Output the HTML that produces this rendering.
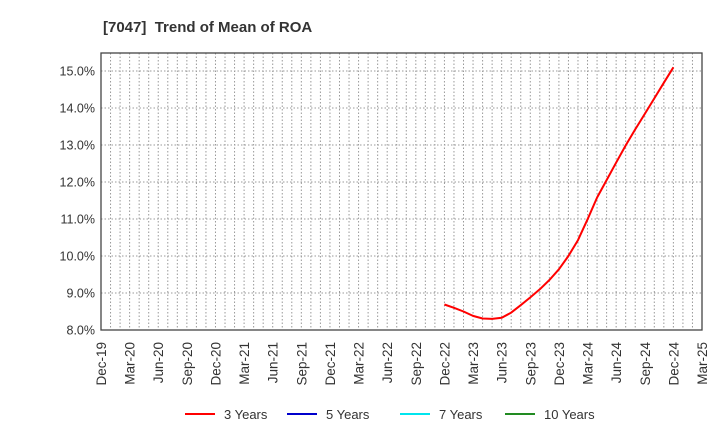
<!DOCTYPE html>
<html><head><meta charset="utf-8"><style>
body{margin:0;background:#fff;font-family:"Liberation Sans",Arial,sans-serif;}
</style></head><body>
<svg id="chart" width="720" height="440" xmlns="http://www.w3.org/2000/svg" font-family="Liberation Sans, Arial, sans-serif">
<text x="103" y="32" font-size="15" font-weight="bold" fill="#333" xml:space="preserve">[7047]  Trend of Mean of ROA</text>
<g id="grid"></g><g id="axes"></g><g id="series"></g>
<g font-size="13" fill="#333">
<g><line x1="185" y1="414" x2="215" y2="414" stroke="#ff0000" stroke-width="2"/><text x="224" y="419">3 Years</text></g>
<g><line x1="287" y1="414" x2="317" y2="414" stroke="#0000cc" stroke-width="2"/><text x="326" y="419">5 Years</text></g>
<g><line x1="400" y1="414" x2="430" y2="414" stroke="#00e5ee" stroke-width="2"/><text x="439" y="419">7 Years</text></g>
<g><line x1="505" y1="414" x2="535" y2="414" stroke="#228b22" stroke-width="2"/><text x="544" y="419">10 Years</text></g>
</g>
</svg>
<script>
const xTickLabels=["Dec-19","Mar-20","Jun-20","Sep-20","Dec-20","Mar-21","Jun-21","Sep-21","Dec-21","Mar-22","Jun-22","Sep-22","Dec-22","Mar-23","Jun-23","Sep-23","Dec-23","Mar-24","Jun-24","Sep-24","Dec-24","Mar-25"];
const yTicks=[8,9,10,11,12,13,14,15];
const seriesStartMonth=36; // Dec-22, months since Dec-19
const roa3y=[8.69,8.6,8.5,8.38,8.31,8.3,8.33,8.47,8.67,8.88,9.1,9.35,9.64,10.0,10.43,10.99,11.58,12.05,12.52,12.99,13.42,13.84,14.26,14.68,15.1];
const L=101,R=702,T=53,B=330,NM=63,yMin=8,yMax=15.486;
const xS=m=>L+(R-L)*m/NM;
const yS=v=>B-(B-T)*(v-yMin)/(yMax-yMin);
const NS="http://www.w3.org/2000/svg";
function mk(p,t,a){const e=document.createElementNS(NS,t);for(const k in a)e.setAttribute(k,a[k]);p.appendChild(e);return e;}
const grid=document.getElementById('grid'),axes=document.getElementById('axes'),ser=document.getElementById('series');
for(let m=1;m<NM;m++){const l=mk(grid,'line',{x1:xS(m),x2:xS(m),y1:T,y2:B,stroke:'#999','stroke-dasharray':'1.5,2','stroke-width':1});

}
yTicks.forEach(v=>{const y=yS(v);
const g=mk(grid,'line',{x1:L,x2:R,y1:y,y2:y,stroke:'#999','stroke-dasharray':'1.5,2','stroke-width':1});


const t=mk(axes,'text',{x:L-6,y:y+4.5,'text-anchor':'end','font-size':12.5,fill:'#333'});t.textContent=v.toFixed(1)+'%';

});
const fr=mk(axes,'rect',{x:L,y:T,width:R-L,height:B-T,fill:'none',stroke:'#444','stroke-width':1.3});


xTickLabels.forEach((s,i)=>{const x=xS(i*3);
const t=mk(axes,'text',{x:0,y:0,'text-anchor':'end','font-size':13.5,fill:'#333',transform:`translate(${x+5},${B+12}) rotate(-90)`});t.textContent=s;

});
const pts=roa3y.map((v,i)=>xS(seriesStartMonth+i).toFixed(1)+','+yS(v).toFixed(1)).join(' ');
const pl=mk(ser,'polyline',{points:pts,fill:'none',stroke:'#ff0000','stroke-width':2,'stroke-linejoin':'round'});


</script>
</body></html>
